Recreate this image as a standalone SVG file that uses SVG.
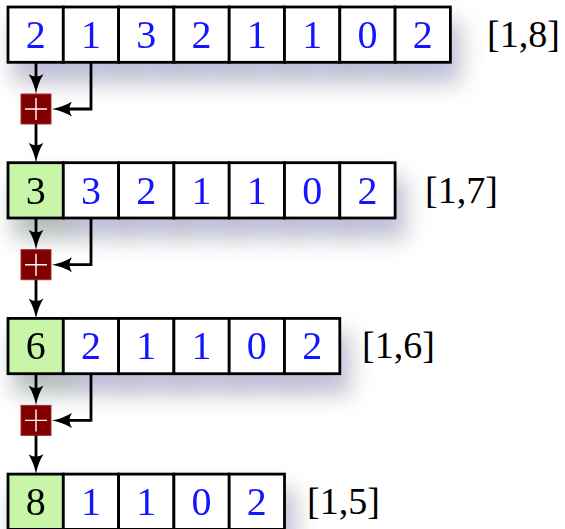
<svg xmlns="http://www.w3.org/2000/svg" width="565" height="529" viewBox="0 0 565 529">
<defs>
<filter id="sh" x="-10%" y="-60%" width="135%" height="280%" color-interpolation-filters="sRGB">
<feGaussianBlur in="SourceGraphic" stdDeviation="11" result="b"/>
<feOffset in="b" dx="8" dy="18" result="o"/>
<feColorMatrix in="o" type="matrix" values="0.5 0 0 0 0  0 0.5 0 0 0  0 0 0.72 0 0  0 0 0 0.45 0" result="s"/>
<feMerge><feMergeNode in="s"/><feMergeNode in="SourceGraphic"/></feMerge>
</filter>
<marker id="ah" viewBox="0 0 20 15" markerWidth="20" markerHeight="15" refX="11" refY="7.5" orient="auto" markerUnits="userSpaceOnUse">
<path d="M0,0 Q9,5.5 20,7.5 Q9,9.5 0,15 Q5,7.5 0,0 Z" fill="#000"/>
</marker>
</defs>
<style>
.c{fill:#fff;stroke:#000;stroke-width:2.8}
.g{fill:#c8f5a8;stroke:#000;stroke-width:2.8}
.d{font-family:"Liberation Serif",serif;font-size:40px;fill:#1414ff;text-anchor:middle}
.k{font-family:"Liberation Serif",serif;font-size:40px;fill:#000;text-anchor:middle}
.l{font-family:"Liberation Serif",serif;font-size:38px;fill:#000}
.p{fill:#800000;stroke:#a03030;stroke-width:1}
.pl{stroke:#fff;stroke-width:1.4}
.e{fill:none;stroke:#000;stroke-width:2.8;marker-end:url(#ah)}
</style>

<g id="row1" filter="url(#sh)">
<rect class="c" x="8" y="7" width="55.3" height="55.3"/>
<rect class="c" x="63.3" y="7" width="55.3" height="55.3"/>
<rect class="c" x="118.6" y="7" width="55.3" height="55.3"/>
<rect class="c" x="173.9" y="7" width="55.3" height="55.3"/>
<rect class="c" x="229.2" y="7" width="55.3" height="55.3"/>
<rect class="c" x="284.5" y="7" width="55.3" height="55.3"/>
<rect class="c" x="339.8" y="7" width="55.3" height="55.3"/>
<rect class="c" x="395.1" y="7" width="55.3" height="55.3"/>
<text class="d" x="35.65" y="48">2</text>
<text class="d" x="90.95" y="48">1</text>
<text class="d" x="146.25" y="48">3</text>
<text class="d" x="201.55" y="48">2</text>
<text class="d" x="256.85" y="48">1</text>
<text class="d" x="312.15" y="48">1</text>
<text class="d" x="367.45" y="48">0</text>
<text class="d" x="422.75" y="48">2</text>
</g>
<text id="label1" class="l" x="487" y="47">[1,8]</text>

<g id="row2" filter="url(#sh)">
<rect class="g" x="8" y="162.7" width="55.3" height="55.3"/>
<rect class="c" x="63.3" y="162.7" width="55.3" height="55.3"/>
<rect class="c" x="118.6" y="162.7" width="55.3" height="55.3"/>
<rect class="c" x="173.9" y="162.7" width="55.3" height="55.3"/>
<rect class="c" x="229.2" y="162.7" width="55.3" height="55.3"/>
<rect class="c" x="284.5" y="162.7" width="55.3" height="55.3"/>
<rect class="c" x="339.8" y="162.7" width="55.3" height="55.3"/>
<text class="k" x="35.65" y="203.7">3</text>
<text class="d" x="90.95" y="203.7">3</text>
<text class="d" x="146.25" y="203.7">2</text>
<text class="d" x="201.55" y="203.7">1</text>
<text class="d" x="256.85" y="203.7">1</text>
<text class="d" x="312.15" y="203.7">0</text>
<text class="d" x="367.45" y="203.7">2</text>
</g>
<text id="label2" class="l" x="425" y="202.7">[1,7]</text>

<g id="row3" filter="url(#sh)">
<rect class="g" x="8" y="318.4" width="55.3" height="55.3"/>
<rect class="c" x="63.3" y="318.4" width="55.3" height="55.3"/>
<rect class="c" x="118.6" y="318.4" width="55.3" height="55.3"/>
<rect class="c" x="173.9" y="318.4" width="55.3" height="55.3"/>
<rect class="c" x="229.2" y="318.4" width="55.3" height="55.3"/>
<rect class="c" x="284.5" y="318.4" width="55.3" height="55.3"/>
<text class="k" x="35.65" y="359.4">6</text>
<text class="d" x="90.95" y="359.4">2</text>
<text class="d" x="146.25" y="359.4">1</text>
<text class="d" x="201.55" y="359.4">1</text>
<text class="d" x="256.85" y="359.4">0</text>
<text class="d" x="312.15" y="359.4">2</text>
</g>
<text id="label3" class="l" x="362" y="358.4">[1,6]</text>

<g id="row4" filter="url(#sh)">
<rect class="g" x="8" y="474.1" width="55.3" height="55.3"/>
<rect class="c" x="63.3" y="474.1" width="55.3" height="55.3"/>
<rect class="c" x="118.6" y="474.1" width="55.3" height="55.3"/>
<rect class="c" x="173.9" y="474.1" width="55.3" height="55.3"/>
<rect class="c" x="229.2" y="474.1" width="55.3" height="55.3"/>
<text class="k" x="35.65" y="515.1">8</text>
<text class="d" x="90.95" y="515.1">1</text>
<text class="d" x="146.25" y="515.1">1</text>
<text class="d" x="201.55" y="515.1">0</text>
<text class="d" x="256.85" y="515.1">2</text>
</g>
<text id="label4" class="l" x="307" y="514.1">[1,5]</text>

<g id="plus1"><rect class="p" x="21" y="94" width="30" height="30"/><path class="pl" d="M25,109H47M36,98V120"/></g>
<g id="plus2"><rect class="p" x="21" y="249.7" width="30" height="30"/><path class="pl" d="M25,264.7H47M36,253.7V275.7"/></g>
<g id="plus3"><rect class="p" x="21" y="405.4" width="30" height="30"/><path class="pl" d="M25,420.4H47M36,409.4V431.4"/></g>

<g id="connectors">
<path class="e" d="M36,62.3V85"/>
<path class="e" d="M91,62.3V109H61"/>
<path class="e" d="M36,124V153.7"/>
<path class="e" d="M36,218V240.7"/>
<path class="e" d="M91,218V264.7H61"/>
<path class="e" d="M36,279.7V309.4"/>
<path class="e" d="M36,373.7V396.4"/>
<path class="e" d="M91,373.7V420.4H61"/>
<path class="e" d="M36,435.4V465.1"/>
</g>
</svg>
